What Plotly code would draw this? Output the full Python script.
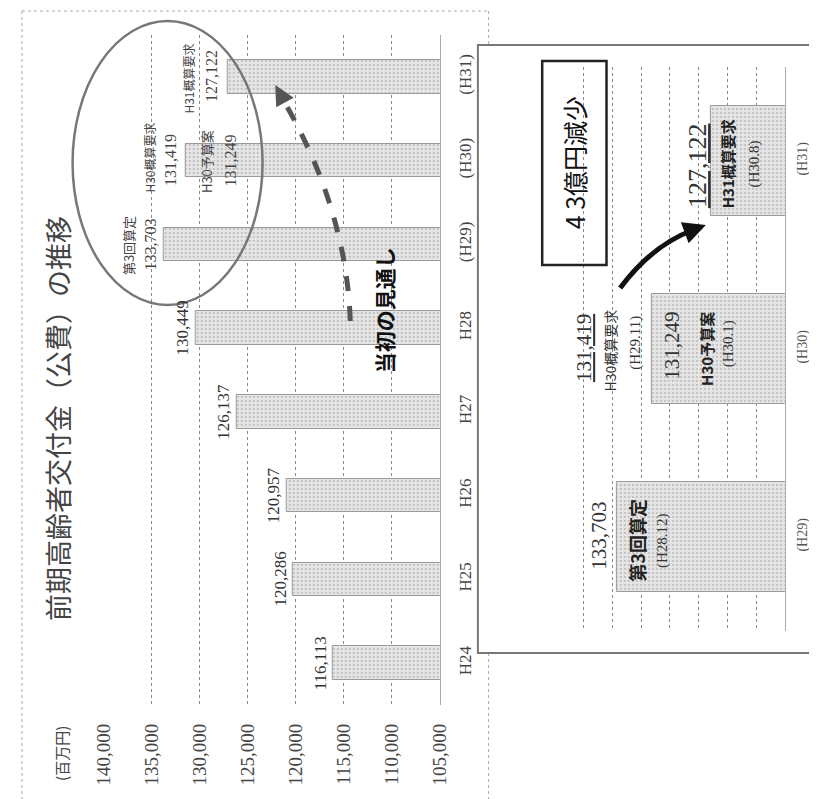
import plotly.graph_objects as go

# ---------------- data ----------------
categories = ["H24", "H25", "H26", "H27", "H28", "(H29)", "(H30)", "(H31)"]
values = [116113, 120286, 120957, 126137, 130449, 133703, 131419, 127122]
value_labels = ["116,113", "120,286", "120,957", "126,137", "130,449"]
value_ticks = [105000, 110000, 115000, 120000, 125000, 130000, 135000, 140000]
value_tick_text = ["105,000", "110,000", "115,000", "120,000", "125,000", "130,000", "135,000", "140,000"]

inset_categories = ["(H29)", "(H30)", "(H31)"]
inset_values = [133703, 131249, 127122]
inset_ticks = [122000, 124000, 126000, 128000, 130000, 132000, 134000, 136000, 138000]

title_text = "前期高齢者交付金（公費）の推移"
unit_text = "(百万円)"

W, H = 817, 799
def X(px):
    return px / W
def Y(py):
    return 1 - py / H

SERIF = "Liberation Serif, Noto Sans CJK JP"
JP = "Noto Sans CJK JP"

fig = go.Figure()

bar_marker = dict(color="#e2e2e2", line=dict(color="#9a9a9a", width=1),
                  pattern=dict(shape=".", fgcolor="#9c9c9c", bgcolor="#e6e6e6", size=4, solidity=0.25))

# main bars (chart is rotated 90deg counter-clockwise)
fig.add_trace(go.Bar(y=categories, x=values, orientation="h", width=0.4, marker=bar_marker,
                     xaxis="x", yaxis="y", showlegend=False, hoverinfo="skip"))

# inset bars
fig.add_trace(go.Bar(y=inset_categories, x=inset_values, orientation="h", width=0.585, marker=bar_marker,
                     xaxis="x2", yaxis="y2", showlegend=False, hoverinfo="skip"))

ann = []
# value labels beside main bars
for c, v, t in zip(categories[:5], values[:5], value_labels):
    ann.append(dict(x=v, y=c, xref="x", yref="y", text=t, textangle=-90, showarrow=False,
                    xanchor="center", yanchor="middle", xshift=-13,
                    font=dict(family=SERIF, size=17, color="#333")))

def txt(px, py, text, size, color="#333", family=JP, angle=-90):
    ann.append(dict(x=X(px), y=Y(py), xref="paper", yref="paper", text=text, textangle=angle,
                    showarrow=False, xanchor="center", yanchor="middle",
                    font=dict(family=family, size=size, color=color)))

# title and unit
txt(39, 410, title_text, 27, "#444")
txt(43, 745, unit_text, 15, "#444")

# circle labels
txt(112, 238, "第3回算定", 13, "#444")
txt(135, 237, "133,703", 16, "#444", SERIF)
txt(133, 150, "H30概算要求", 12, "#444")
txt(155, 152, "131,419", 16, "#444", SERIF)
txt(192, 154, "H30予算案", 13, "#444")
txt(217, 152, "131,249", 16, "#444", SERIF)
txt(173, 71, "H31概算要求", 12, "#444")
txt(197, 68, "127,122", 16, "#444", SERIF)

# main arrow text
txt(375, 302, "<b>当初の見通し</b>", 21, "#111")

# inset texts
txt(570, 155, "4 3億円減少", 25, "#111")
txt(580, 340, "<u>131,419</u>", 21, "#333", SERIF)
txt(607, 342, "H30概算要求", 14, "#333")
txt(633, 335, "(H29.11)", 15, "#333", SERIF)
txt(670, 338, "131,249", 21, "#333", SERIF)
txt(705, 341, "<b>H30予算案</b>", 15, "#222")
txt(728, 336, "(H30.1)", 15, "#333", SERIF)
txt(697, 158, "<u>127,122</u>", 26, "#333", SERIF)
txt(728, 156, "<b>H31概算要求</b>", 15, "#222")
txt(755, 156, "(H30.8)", 15, "#333", SERIF)
txt(595, 528, "133,703", 21, "#333", SERIF)
txt(634, 532, "<b>第3回算定</b>", 18, "#222")
txt(660, 533, "(H28.12)", 15, "#333", SERIF)

# arrow heads
ann.append(dict(x=X(263), y=Y(77), xref="paper", yref="paper", showarrow=True, text="",
                ax=10, ay=18, arrowhead=2, arrowwidth=5, arrowsize=0.8, arrowcolor="#555"))
ann.append(dict(x=X(705), y=Y(217), xref="paper", yref="paper", showarrow=True, text="",
                ax=-19, ay=7, arrowhead=2, arrowwidth=5, arrowsize=0.9, arrowcolor="#111"))

frame = dict(color="#aaa", width=1, dash="dot")
shapes = [
    dict(type="line", xref="paper", yref="paper", x0=X(3), x1=X(482), y0=Y(3), y1=Y(3), line=frame, layer="below"),
    dict(type="line", xref="paper", yref="paper", x0=X(3), x1=X(3), y0=Y(3), y1=Y(796), line=frame, layer="below"),
    dict(type="line", xref="paper", yref="paper", x0=X(3), x1=X(482), y0=Y(796), y1=Y(796), line=frame, layer="below"),
    dict(type="line", xref="paper", yref="paper", x0=X(482), x1=X(482), y0=Y(3), y1=Y(37), line=frame, layer="below"),
    dict(type="line", xref="paper", yref="paper", x0=X(482), x1=X(482), y0=Y(645), y1=Y(796), line=frame, layer="below"),
    # inset frame
    dict(type="rect", xref="paper", yref="paper", x0=X(471), x1=X(815), y0=Y(37), y1=Y(645),
         line=dict(color="#777", width=2), fillcolor="white", layer="below"),
    # ellipse
    dict(type="circle", xref="paper", yref="paper", x0=X(55), x1=X(250), y0=Y(13), y1=Y(297),
         line=dict(color="#777", width=2.5)),
    # dashed curved arrow (main)
    dict(type="path", xref="paper", yref="paper",
         path=f"M {X(340)},{Y(313)} Q {X(336)},{Y(200)} {X(270)},{Y(90)}",
         line=dict(color="#555", width=5, dash="dash")),
    # solid curved arrow (inset)
    dict(type="path", xref="paper", yref="paper",
         path=f"M {X(617)},{Y(280)} Q {X(650)},{Y(237)} {X(692)},{Y(222)}",
         line=dict(color="#111", width=5)),
    # box around 43億円減少
    dict(type="rect", xref="paper", yref="paper", x0=X(537), x1=X(603), y0=Y(53), y1=Y(257),
         line=dict(color="#222", width=2.5), fillcolor="rgba(0,0,0,0)"),
]

fig.update_layout(
    width=W, height=H,
    margin=dict(l=0, r=0, t=0, b=0),
    paper_bgcolor="white", plot_bgcolor="rgba(0,0,0,0)",
    bargap=0,
    xaxis=dict(domain=[X(87), X(432)], range=[140000, 105000], anchor="y",
               tickvals=value_ticks, ticktext=value_tick_text, tickangle=-90,
               tickfont=dict(family=SERIF, size=19, color="#444"),
               ticklabelstandoff=14,
               showgrid=True, gridcolor="#888", griddash="dot", gridwidth=1,
               zeroline=False, showline=False, ticks=""),
    yaxis=dict(domain=[Y(697), Y(27)], anchor="x", side="right",
               categoryorder="array", categoryarray=categories,
               tickangle=-90, tickfont=dict(family=SERIF, size=17, color="#444"),
               ticklabelstandoff=10,
               showgrid=False, zeroline=False, showline=True, linecolor="#aaa", linewidth=1, ticks=""),
    xaxis2=dict(domain=[X(550), X(786)], range=[138000, 122000], anchor="y2",
                tickvals=inset_ticks, showticklabels=False,
                showgrid=True, gridcolor="#888", griddash="dot", gridwidth=1,
                zeroline=False, showline=False, ticks=""),
    yaxis2=dict(domain=[Y(623), Y(59)], anchor="x2", side="right",
                categoryorder="array", categoryarray=inset_categories,
                tickangle=-90, tickfont=dict(family=SERIF, size=14, color="#555"),
                ticklabelstandoff=4,
                showgrid=False, zeroline=False, showline=True, linecolor="#aaa", linewidth=1, ticks=""),
    annotations=ann,
    shapes=shapes,
)

fig.write_html("out.html")
